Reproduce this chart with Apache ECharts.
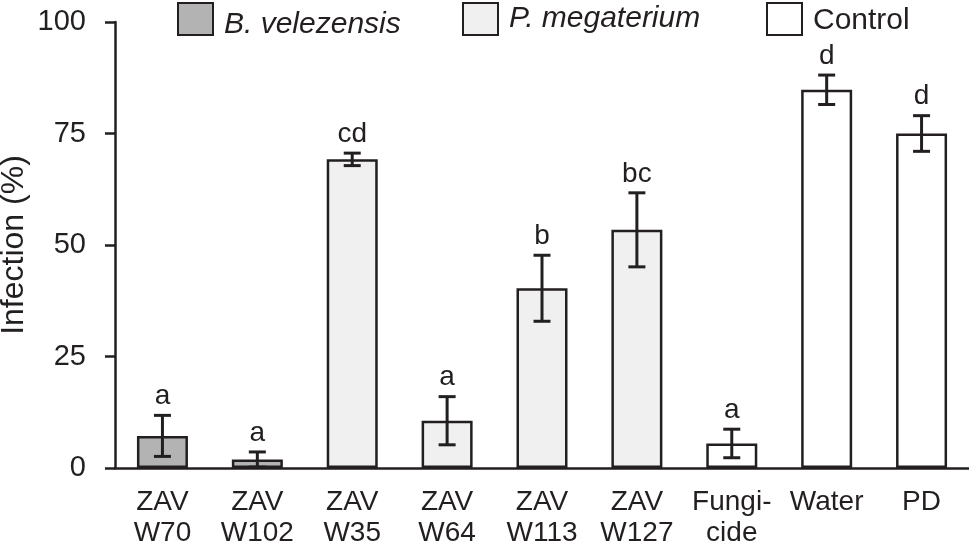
<!DOCTYPE html>
<html>
<head>
<meta charset="utf-8">
<script src="https://cdn.jsdelivr.net/npm/echarts@6/dist/echarts.min.js"></script>
<style>html,body{margin:0;padding:0;background:#fff;}#c{width:969px;height:544px;}</style>
</head>
<body>
<div id="c"></div>
<script>
const categories = ['ZAV\nW70','ZAV\nW102','ZAV\nW35','ZAV\nW64','ZAV\nW113','ZAV\nW127','Fungi-\ncide','Water','PD'];
const bVelezensis = [7.2, 1.9, '-', '-', '-', '-', '-', '-', '-'];
const pMegaterium = ['-', '-', 69.2, 10.6, 40.3, 53.4, '-', '-', '-'];
const control = ['-', '-', '-', '-', '-', '-', 5.5, 84.8, 75.0];
const means = [7.2, 1.9, 69.2, 10.6, 40.3, 53.4, 5.5, 84.8, 75.0];
const errors = [4.6, 1.7, 1.4, 5.4, 7.4, 8.3, 3.2, 3.3, 4.0];
const letters = ['a', 'a', 'cd', 'a', 'b', 'bc', 'a', 'd', 'd'];
const yTicks = [0, 25, 50, 75, 100];

const ink = '#231f20';
const font = 'Liberation Sans';
const chart = echarts.init(document.getElementById('c'), null, {renderer: 'canvas'});

function barSeries(name, data, color) {
  return {
    name: name, type: 'bar', data: data, barWidth: 51, barGap: '-100%',
    itemStyle: {color: color, borderColor: ink, borderWidth: 2.5},
    emphasis: {disabled: true}, z: 2
  };
}

function legendFor(name, left, italic, top, padTop) {
  return {
    top: top, left: left, padding: 0, itemWidth: 35, itemHeight: 32, icon: 'rect',
    itemStyle: {borderColor: ink, borderWidth: 2},
    data: [name],
    formatter: function (n) { return '{t|' + n + '}'; },
    textStyle: {
      fontFamily: font, color: ink, fontSize: 30,
      rich: {t: {fontFamily: font, fontSize: 30, fontStyle: italic ? 'italic' : 'normal', color: ink, padding: [padTop, 0, 0, 6]}}
    }
  };
}

const errData = means.map((m, i) => [i, m, errors[i]]);

chart.setOption({
  animation: false,
  textStyle: {fontFamily: font, color: ink},
  grid: {left: 115, right: 0, top: 22, bottom: 76, containLabel: false, outerBoundsMode: 'none'},
  legend: [
    legendFor('B. velezensis', 177, true, 2, 12),
    legendFor('P. megaterium', 462, true, 2, 0),
    legendFor('Control', 766, false, 2, 4)
  ],
  xAxis: {
    type: 'category', data: categories,
    axisLine: {lineStyle: {color: ink, width: 2.5}},
    axisTick: {show: false},
    axisLabel: {color: ink, fontSize: 28, lineHeight: 31, margin: 19, fontFamily: font, interval: 0}
  },
  yAxis: {
    type: 'value', min: 0, max: 100, interval: 25,
    name: 'Infection (%)', nameLocation: 'middle', nameGap: 85, nameMoveOverlap: false,
    nameTextStyle: {fontSize: 32, color: ink, fontFamily: font},
    axisLine: {show: true, lineStyle: {color: ink, width: 2.5}},
    axisTick: {show: true, length: 10, lineStyle: {color: ink, width: 2.5}},
    splitLine: {show: false},
    axisLabel: {color: ink, fontSize: 29, margin: 29, fontFamily: font,
      formatter: function (v) { return yTicks.indexOf(v) >= 0 ? String(v) : ''; }}
  },
  series: [
    barSeries('B. velezensis', bVelezensis, '#b3b3b3'),
    barSeries('P. megaterium', pMegaterium, '#f0f0f0'),
    barSeries('Control', control, '#ffffff'),
    {
      type: 'custom', name: 'err', z: 5, silent: true,
      data: errData,
      renderItem: function (params, api) {
        const i = api.value(0), m = api.value(1), e = api.value(2);
        const top = api.coord([i, m + e]);
        const bot = api.coord([i, Math.max(m - e, 0)]);
        const hw = 8.5;
        const st = {stroke: ink, lineWidth: 3};
        return {
          type: 'group',
          children: [
            {type: 'line', shape: {x1: top[0], y1: top[1], x2: bot[0], y2: bot[1]}, style: st},
            {type: 'line', shape: {x1: top[0] - hw, y1: top[1], x2: top[0] + hw, y2: top[1]}, style: st},
            {type: 'line', shape: {x1: bot[0] - hw, y1: bot[1], x2: bot[0] + hw, y2: bot[1]}, style: st},
            {type: 'text', style: {x: top[0], y: top[1] - 5, text: letters[i], fill: ink,
              font: '28px "Liberation Sans"', align: 'center', verticalAlign: 'bottom'}}
          ]
        };
      }
    }
  ]
});
</script>
</body>
</html>
